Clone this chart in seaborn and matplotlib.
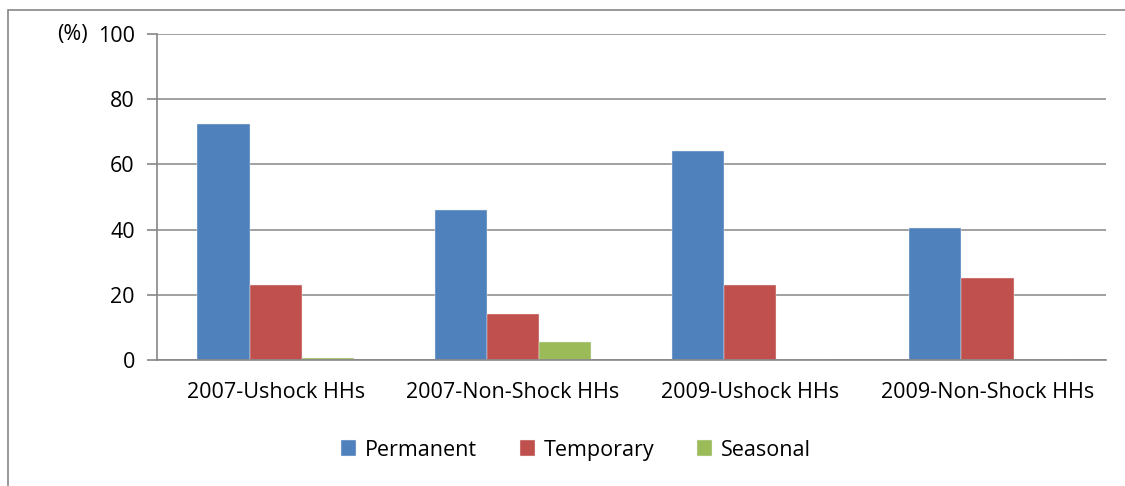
import matplotlib
matplotlib.use("Agg")
import matplotlib.pyplot as plt
import seaborn as sns
import pandas as pd
from matplotlib.patches import Rectangle

categories = ["2007-Ushock HHs", "2007-Non-Shock HHs", "2009-Ushock HHs", "2009-Non-Shock HHs"]
series = ["Permanent", "Temporary", "Seasonal"]
permanent = [72.4, 46.1, 64.1, 40.5]
temporary = [23.1, 14.1, 23.0, 25.2]
seasonal = [0.6, 5.5, 0.0, 0.0]
colors = ["#4F81BD", "#C0504D", "#9BBB59"]

rows = []
for name, vals in zip(series, [permanent, temporary, seasonal]):
    for c, v in zip(categories, vals):
        rows.append({"cat": c, "series": name, "value": v})
df = pd.DataFrame(rows)

sns.set_style("white")
plt.rcParams['font.family'] = ['Open Sans', 'DejaVu Sans']
fs = 15.5

fig = plt.figure(figsize=(11.25, 4.86), dpi=100)
ax = fig.add_axes([0.1396, 0.2593, 0.8436, 0.6707])

sns.barplot(data=df, x="cat", y="value", hue="series", palette=colors,
            width=0.66, ax=ax, edgecolor="#f0f0f0", linewidth=0.3, saturation=1)

ax.set_ylim(0, 100)
ax.set_xlim(-0.5, 3.5)
ax.set_yticks([0, 20, 40, 60, 80, 100])
ax.yaxis.grid(True, color="#868686", linewidth=1.1)
ax.set_axisbelow(True)
for s in ["top", "right"]:
    ax.spines[s].set_visible(False)
for s in ["left", "bottom"]:
    ax.spines[s].set_color("#868686")
    ax.spines[s].set_linewidth(1.2)

ax.set_xticks([i for i in range(len(categories))])
ax.set_xticklabels(categories)
ax.set_xticks([i - 0.5 for i in range(len(categories) + 1)], minor=True)
ax.tick_params(axis="x", which="major", length=0, pad=16, labelsize=fs, labelcolor="black")
ax.tick_params(axis="x", which="minor", length=7, width=1.2, color="#868686", direction="out")
ax.tick_params(axis="y", which="major", length=7, width=1.2, color="#868686",
               direction="out", labelsize=fs, pad=9, left=True, labelcolor="black")
ax.set_xlabel("")
ax.set_ylabel("")
ax.text(-0.0727, 1.0, "(%)", transform=ax.transAxes, ha="right", va="center",
        fontsize=fs, color="black")

ax.legend(loc="center", bbox_to_anchor=(0.512, 0.074), bbox_transform=fig.transFigure,
          ncol=3, frameon=False, fontsize=fs, handlelength=0.7, handleheight=0.7,
          handletextpad=0.4, columnspacing=2.0, labelcolor="black")

fig.patches.append(Rectangle((8 / 1125, -0.1), 1.2, 1 - 10 / 486 + 0.1,
                             transform=fig.transFigure, fill=False,
                             edgecolor="#868686", linewidth=1.2))

fig.savefig("out.png", dpi=100)
